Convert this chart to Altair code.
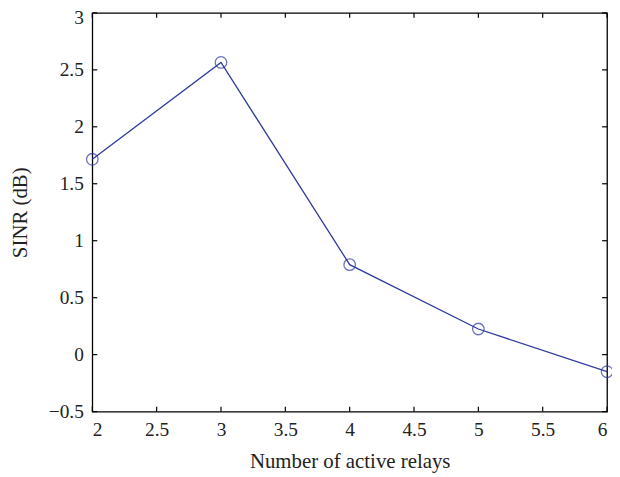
import altair as alt
import pandas as pd

relays = [2, 3, 4, 5, 6]
sinr = [1.715, 2.565, 0.79, 0.225, -0.15]

xticks = [2, 2.5, 3, 3.5, 4, 4.5, 5, 5.5, 6]
yticks = [-0.5, 0, 0.5, 1, 1.5, 2, 2.5, 3]

W, H = 519, 402
COLOR = "#2f3a9c"
FONT = "Liberation Serif"

df = pd.DataFrame({"relays": relays, "sinr": sinr})
dfx = pd.DataFrame({"t": xticks})
dfy = pd.DataFrame({"t": yticks})

xscale = alt.Scale(domain=[2, 6], nice=False, zero=False)
yscale = alt.Scale(domain=[-0.5, 3], nice=False, zero=False)

xaxis = alt.Axis(values=xticks, format="~g", ticks=False, domain=False, grid=False,
                 labelFont=FONT, labelFontSize=19.5, labelColor="#222",
                 labelPadding=9, title="Number of active relays",
                 titleFont=FONT, titleFontSize=21, titleFontWeight="normal",
                 titleColor="#222", titlePadding=12)
yaxis = alt.Axis(values=yticks, format="~g", ticks=False, domain=False, grid=False,
                 labelFont=FONT, labelFontSize=19.5, labelColor="#222",
                 labelPadding=9,
                 labelOffset={"condition": {"test": "datum.value == 3", "value": 5}, "value": 0},
                 title="SINR (dB)",
                 titleFont=FONT, titleFontSize=21, titleFontWeight="normal",
                 titleColor="#222", titlePadding=18)

base = alt.Chart(df)
line = base.mark_line(color=COLOR, strokeWidth=1.3).encode(
    x=alt.X("relays:Q", scale=xscale, axis=xaxis),
    y=alt.Y("sinr:Q", scale=yscale, axis=yaxis),
)
pts = base.mark_point(color=COLOR, filled=False, size=135, strokeWidth=1.3).encode(
    x=alt.X("relays:Q", scale=xscale),
    y=alt.Y("sinr:Q", scale=yscale),
)

tx = alt.Chart(dfx)
tick_b = tx.mark_rule(color="black", strokeWidth=1.2).encode(
    x=alt.X("t:Q", scale=xscale), y=alt.value(H), y2=alt.value(H - 5))
tick_t = tx.mark_rule(color="black", strokeWidth=1.2).encode(
    x=alt.X("t:Q", scale=xscale), y=alt.value(0), y2=alt.value(5))
ty = alt.Chart(dfy)
tick_l = ty.mark_rule(color="black", strokeWidth=1.2).encode(
    y=alt.Y("t:Q", scale=yscale), x=alt.value(0), x2=alt.value(5))
tick_r = ty.mark_rule(color="black", strokeWidth=1.2).encode(
    y=alt.Y("t:Q", scale=yscale), x=alt.value(W), x2=alt.value(W - 5))

chart = alt.layer(line, pts, tick_b, tick_t, tick_l, tick_r).properties(
    width=W, height=H,
    autosize=alt.AutoSizeParams(type="none"),
    padding={"left": 85, "top": 3, "right": 5, "bottom": 62},
    background="white",
).configure_view(stroke="black", strokeWidth=1.3)

chart.save("out.html", embed_options={"renderer": "svg", "actions": False})
